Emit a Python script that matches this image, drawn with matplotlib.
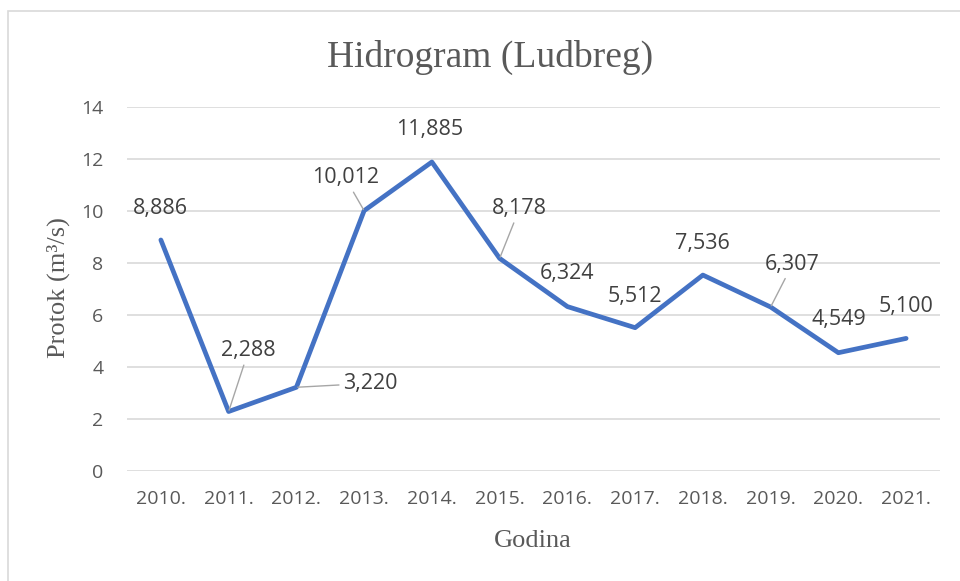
import matplotlib.pyplot as plt
from matplotlib.patches import Rectangle

# data
years = ['2010.', '2011.', '2012.', '2013.', '2014.', '2015.',
         '2016.', '2017.', '2018.', '2019.', '2020.', '2021.']
flow = [8.886, 2.288, 3.220, 10.012, 11.885, 8.178,
        6.324, 5.512, 7.536, 6.307, 4.549, 5.100]
labels = ['8,886', '2,288', '3,220', '10,012', '11,885', '8,178',
          '6,324', '5,512', '7,536', '6,307', '4,549', '5,100']

# label offsets (pixels) and whether a leader line is drawn
offsets = [(-1, 31), (20, 61), (74, 4), (-19, 33), (-2, 32), (20, 50),
           (0, 33), (0, 31), (0, 32), (22, 43), (0, 33), (0, 32)]
leaders = [False, True, True, True, False, True,
           False, False, False, True, False, False]

fig = plt.figure(figsize=(9.6, 5.81), dpi=100)
ax = fig.add_axes([127/960, 1 - 471/581, (940 - 127)/960, (471 - 107)/581])

# outer chart border
fig.patches.append(Rectangle((8/960, -0.1), 1.2, 1 - 11/581 + 0.1,
                             transform=fig.transFigure, fill=False,
                             edgecolor='#D9D9D9', linewidth=1.2))

x = list(range(len(years)))
ax.plot(x, flow, color='#4472C4', linewidth=3.4,
        solid_joinstyle='round', solid_capstyle='round', zorder=3)

for i in x:
    kw = {}
    if leaders[i]:
        kw['arrowprops'] = dict(arrowstyle='-', color='#A6A6A6', lw=1,
                                shrinkA=1, shrinkB=1)
    ax.annotate(labels[i], (i, flow[i]), xytext=offsets[i],
                textcoords='offset pixels', ha='center', va='center',
                fontsize=15.5, color='#404040', family='Open Sans', **kw)

ax.set_xlim(-0.5, 11.5)
ax.set_ylim(0, 14)
ax.set_yticks(range(0, 15, 2))
ax.set_xticks(x)
ax.set_xticklabels(years)
ax.grid(axis='y', color='#D9D9D9', linewidth=1.2)
ax.set_axisbelow(True)
for s in ax.spines.values():
    s.set_visible(False)
ax.tick_params(length=0, labelsize=14, labelcolor='#595959')
ax.tick_params(axis='x', pad=14)
ax.tick_params(axis='y', pad=17)
for t in ax.get_xticklabels() + ax.get_yticklabels():
    t.set_family('Open Sans')

fig.text(490/960, 1 - 57/581, 'Hidrogram (Ludbreg)', ha='center', va='center',
         fontsize=27, color='#595959', family='Liberation Serif')
fig.text(58/960, 1 - 288/581, 'Protok (m³/s)', ha='center', va='center',
         rotation=90, fontsize=19, color='#595959', family='Liberation Serif')
fig.text(533/960, 1 - 541/581, 'Godina', ha='center', va='center',
         fontsize=19, color='#595959', family='Liberation Serif')

fig.savefig('out.png', dpi=100)
